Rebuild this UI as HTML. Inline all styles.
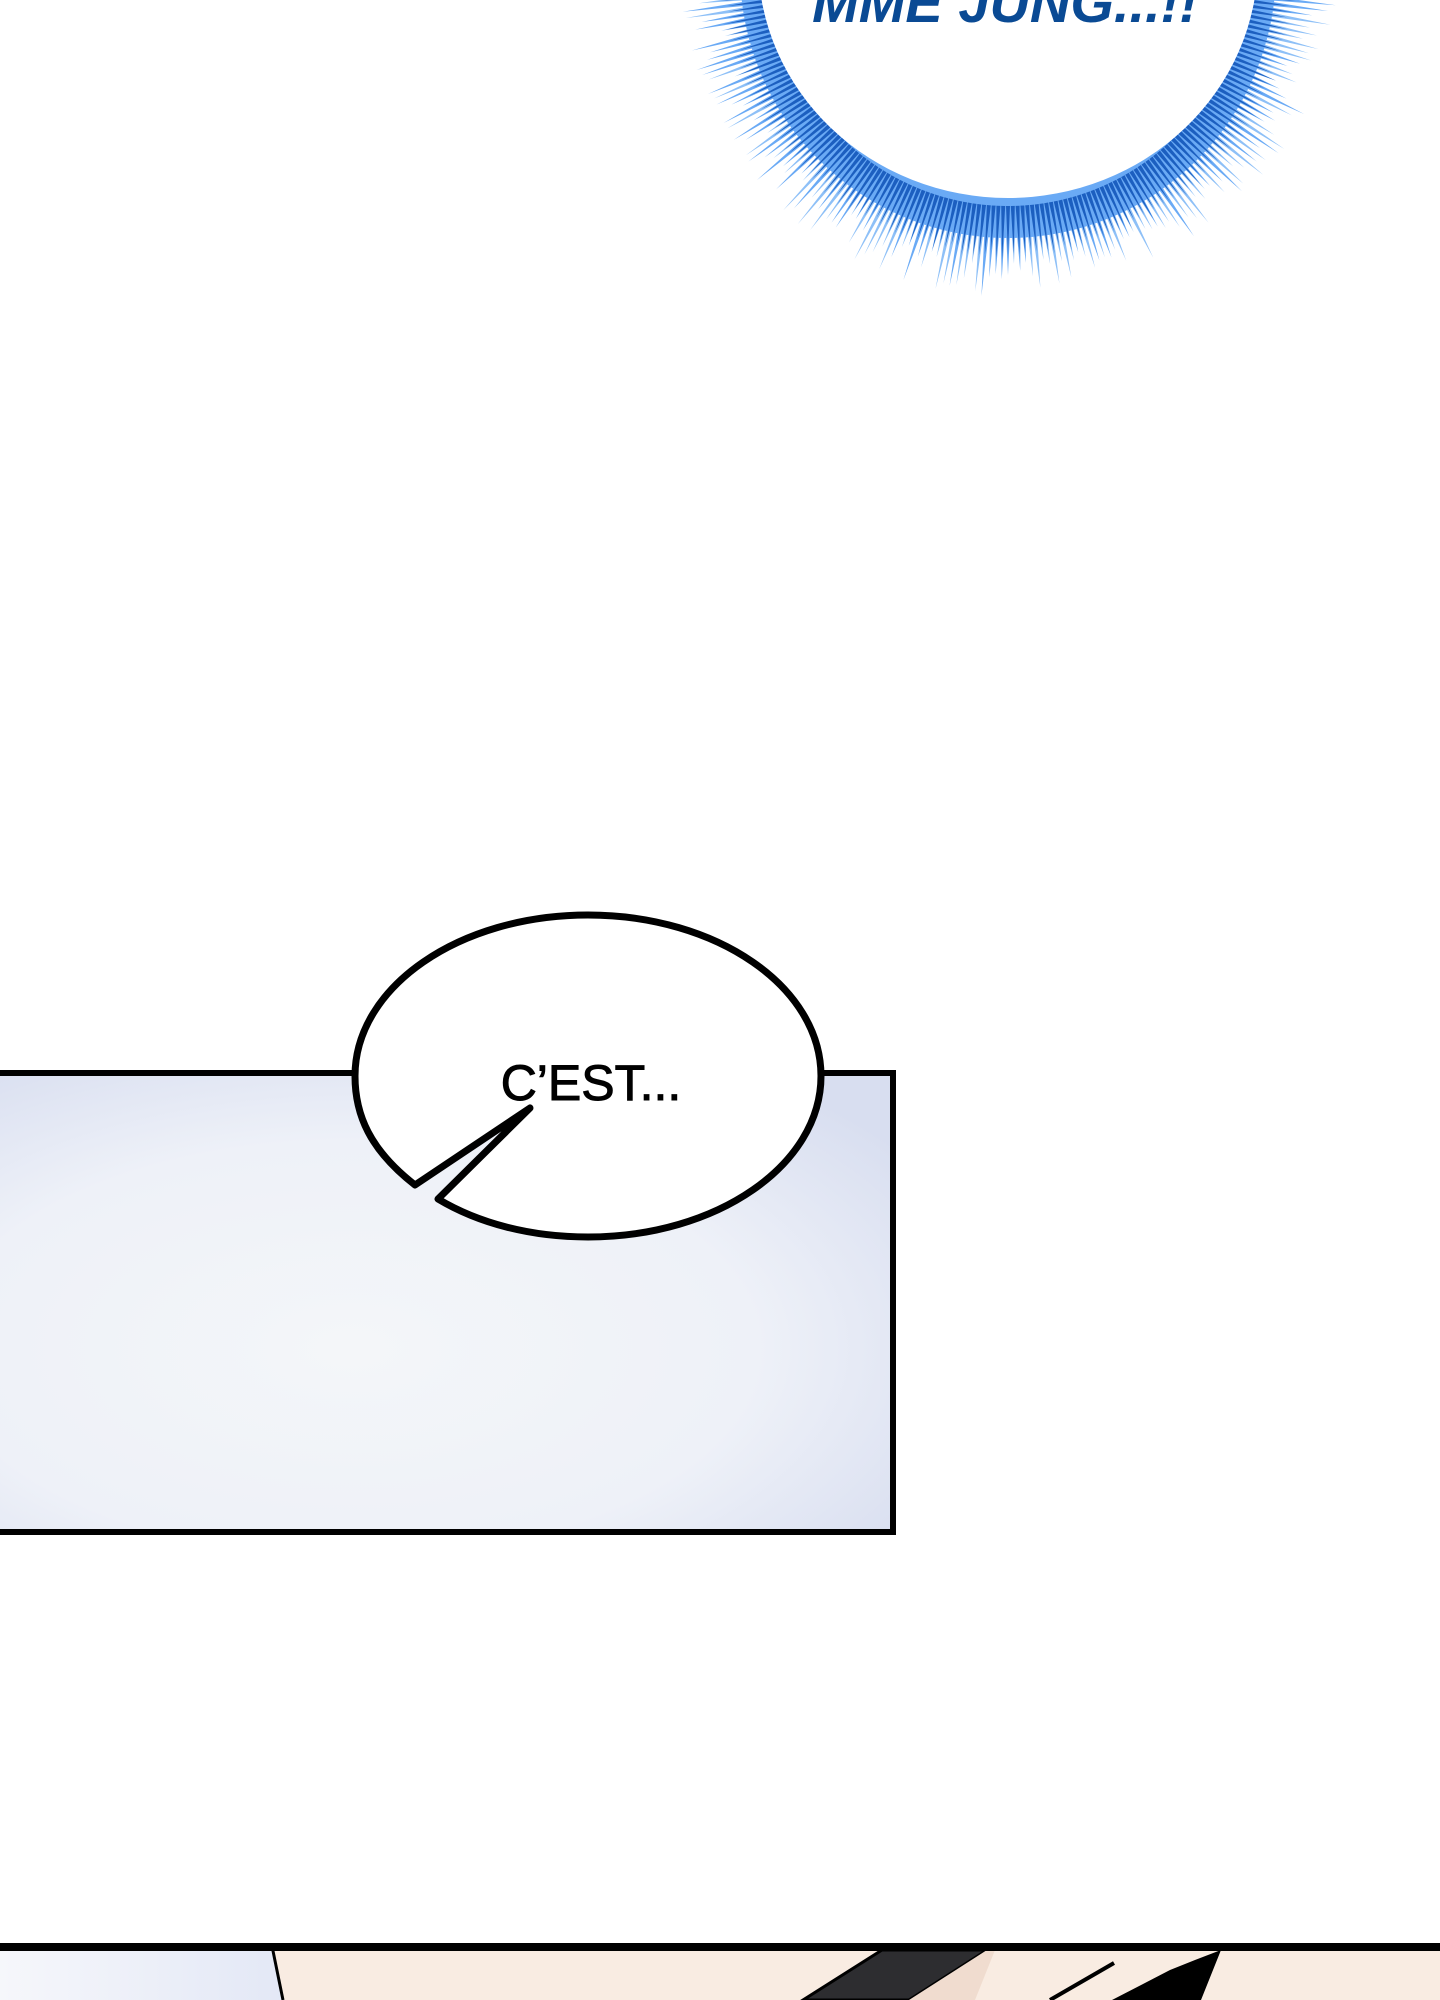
<!DOCTYPE html>
<html><head><meta charset="utf-8"><style>
html,body{margin:0;padding:0;background:#fff;width:1440px;height:2000px;overflow:hidden}
svg{display:block}
</style></head><body>
<svg width="1440" height="2000" viewBox="0 0 1440 2000" xmlns="http://www.w3.org/2000/svg">
<defs>
<radialGradient id="pg" cx="0.4" cy="0.6" r="0.75">
<stop offset="0" stop-color="#f4f6f9"/><stop offset="0.6" stop-color="#eef1f8"/><stop offset="1" stop-color="#d8def0"/>
</radialGradient>
<linearGradient id="bl" x1="0" y1="0" x2="1" y2="0">
<stop offset="0" stop-color="#f6f7fb"/><stop offset="1" stop-color="#e3e8f6"/>
</linearGradient>
</defs>
<g id="spikes"></g>
<ellipse cx="1008" cy="-30" rx="268" ry="268" fill="#6aaaf5"/>
<g id="spikes2"></g>
<ellipse cx="1008" cy="-40" rx="250" ry="238" fill="#fff"/>
<text x="1005" y="22" text-anchor="middle" font-family="Liberation Sans, sans-serif" font-weight="bold" font-style="italic" font-size="56" fill="#0a4a94">MME JUNG...!!</text>

<rect x="-10" y="1073" width="903" height="459" fill="url(#pg)" stroke="#000" stroke-width="6"/>
<path d="M415,1185 C370,1150 355,1115 355,1076 C355,987 459,915 588,915 C717,915 821,987 821,1076 C821,1165 717,1237 588,1237 C530,1237 478,1223 438,1199 L530,1108 Z" fill="#fff" stroke="#000" stroke-width="7" stroke-linejoin="round"/>
<text x="591" y="1100" text-anchor="middle" font-family="Liberation Sans, sans-serif" font-size="50" fill="#000" stroke="#000" stroke-width="1">C’EST...</text>

<rect x="0" y="1950" width="1440" height="50" fill="#f9ece2"/>
<polygon points="0,1950 272,1950 283,2000 0,2000" fill="url(#bl)"/>
<line x1="272" y1="1946" x2="283" y2="2000" stroke="#000" stroke-width="3"/>
<polygon points="882,1950 987,1950 909,2000 803,2000" fill="#2d2d30" stroke="#000" stroke-width="3"/>
<polygon points="987,1950 995,1950 975,2000 909,2000" fill="#f0dccf"/>
<polygon points="1221,1950 1201,2000 1112,2000 1170,1970 1195,1960" fill="#000"/>
<line x1="1050" y1="2000" x2="1114" y2="1963" stroke="#000" stroke-width="4"/>
<rect x="0" y="1943" width="1440" height="8" fill="#000"/>
</svg>
<script>
(function(){
var ns="http://www.w3.org/2000/svg";
var g=document.getElementById("spikes"),g2=document.getElementById("spikes2");
var cx=1008,cy=-30;
function rnd(i){var x=Math.sin(i*12.9898)*43758.5453;return x-Math.floor(x);}
for(var i=0;i<170;i++){
 var ang=-0.05*Math.PI+ (i/170)*1.1*Math.PI;
 var c=Math.cos(ang),s=Math.sin(ang);
 var r0=240,r1=290+rnd(i)*40;
 var p=document.createElementNS(ns,"polygon");
 var w=3;
 var bx=cx+c*r0,by=cy+s*r0;
 var tx=cx+c*r1,ty=cy+s*r1;
 p.setAttribute("points",(bx-s*w)+","+(by+c*w)+" "+(bx+s*w)+","+(by-c*w)+" "+tx+","+ty);
 p.setAttribute("fill",rnd(i+7)>0.5?"#6aaaf5":"#8ec0f7");
 g.appendChild(p);
 var q=document.createElementNS(ns,"polygon");
 var r2=280+rnd(i+3)*10;
 var bx2=cx+c*236,by2=cy+s*236;
 q.setAttribute("points",(bx2-s*2)+","+(by2+c*2)+" "+(bx2+s*2)+","+(by2-c*2)+" "+(cx+c*r2)+","+(cy+s*r2));
 q.setAttribute("fill","#1c5fc0");
 g2.appendChild(q);
}
})();
</script>
</body></html>
